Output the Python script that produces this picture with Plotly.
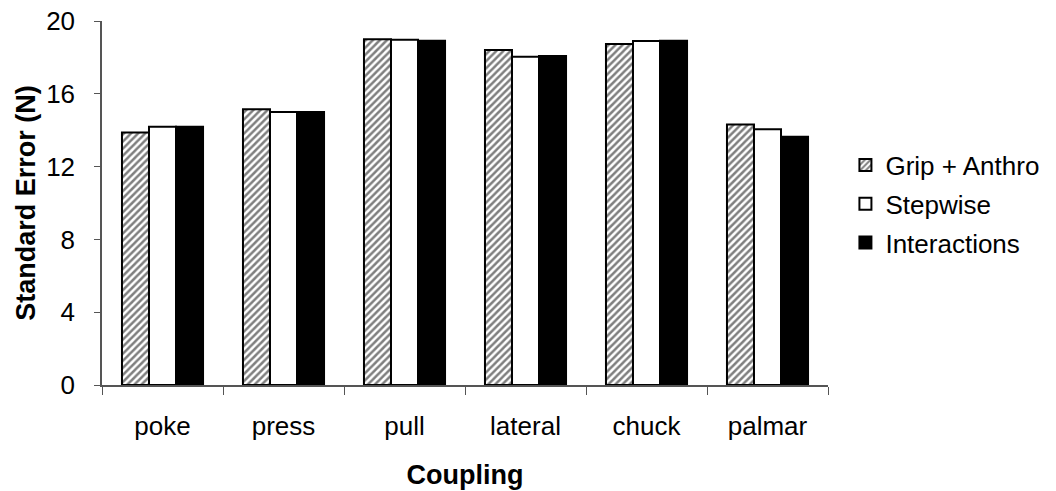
import plotly.graph_objects as go

categories = ["poke", "press", "pull", "lateral", "chuck", "palmar"]
grip_anthro = [13.88, 15.15, 19.0, 18.41, 18.74, 14.32]
stepwise = [14.19, 15.0, 18.97, 18.04, 18.9, 14.05]
interactions = [14.19, 15.0, 18.92, 18.08, 18.92, 13.64]
y_ticks = [0, 4, 8, 12, 16, 20]

FONT = "Liberation Sans, Arial, sans-serif"

fig = go.Figure()
fig.add_trace(go.Bar(
    name="Grip + Anthro", x=categories, y=grip_anthro, legendgroup="a",
    marker=dict(color="white", line=dict(color="black", width=2),
                pattern=dict(shape="/", fgcolor="black", bgcolor="white", size=5, solidity=0.5)),
))
fig.add_trace(go.Bar(
    name="Stepwise", x=categories, y=stepwise, legendgroup="b",
    marker=dict(color="white", line=dict(color="black", width=2)),
))
fig.add_trace(go.Bar(
    name="Interactions", x=categories, y=interactions, legendgroup="c",
    marker=dict(color="black", line=dict(color="black", width=2)),
))

fig.update_layout(
    width=1056, height=491,
    margin=dict(l=102, r=228, t=21, b=106),
    paper_bgcolor="white", plot_bgcolor="white",
    barmode="group", bargap=0.33, bargroupgap=0,
    font=dict(family=FONT, size=27, color="black"),
    legend=dict(x=1.024, y=0.497, xanchor="left", yanchor="middle",
                font=dict(family=FONT, size=26, color="black"),
                tracegroupgap=2, itemwidth=30),
    showlegend=True,
)
fig.update_xaxes(
    showline=True, linecolor="#555555", linewidth=1.5,
    ticks="outside", ticklen=8, tickcolor="#555555", tickson="boundaries",
    tickfont=dict(size=26), ticklabelstandoff=17,
    title=dict(text="<b>Coupling</b>", font=dict(size=27), standoff=25),
    showgrid=False, automargin=False,
)
fig.update_yaxes(
    range=[0, 20], tickvals=y_ticks,
    showline=True, linecolor="#555555", linewidth=1.5,
    ticks="outside", ticklen=6, tickcolor="#555555",
    tickfont=dict(size=26), ticklabelstandoff=14,
    title=dict(text="<b>Standard Error (N)</b>", font=dict(size=27), standoff=3),
    showgrid=False, zeroline=False, automargin=False,
)

fig.write_html("out.html", config={"displayModeBar": False},
               post_script="document.body.style.margin='0';")
